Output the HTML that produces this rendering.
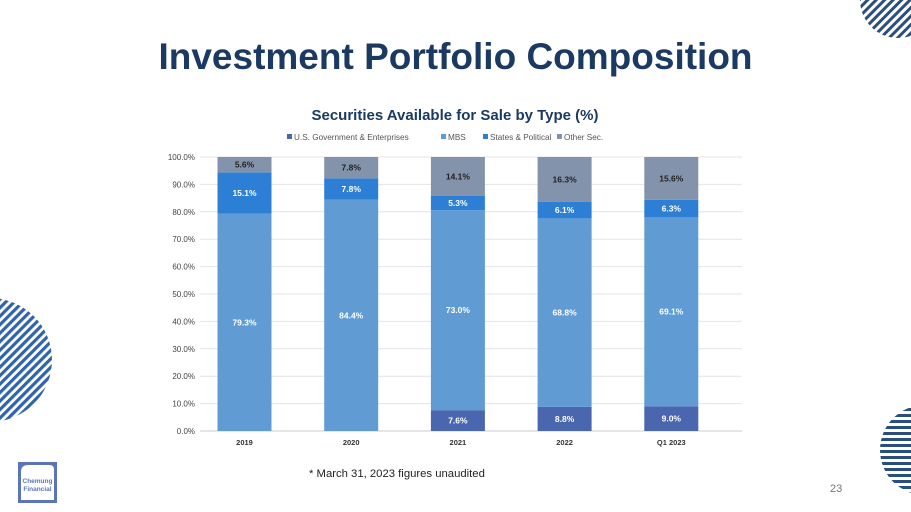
<!DOCTYPE html>
<html><head><meta charset="utf-8"><style>
body{margin:0;width:911px;height:512px;overflow:hidden;background:#fff;font-family:"Liberation Sans",sans-serif;position:relative}
.t{position:absolute}
</style></head><body>
<svg width="911" height="512" style="position:absolute;left:0;top:0">
<defs>
<pattern id="st" width="6" height="6" patternUnits="userSpaceOnUse" patternTransform="rotate(-45)"><rect width="6" height="3.2" fill="#2f64a8"/></pattern>
<pattern id="st2" width="6" height="6" patternUnits="userSpaceOnUse"><rect width="6" height="3" fill="#2a4e7e"/></pattern>
<pattern id="st3" width="6" height="6" patternUnits="userSpaceOnUse" patternTransform="rotate(-45)"><rect width="6" height="3" fill="#2a4e7e"/></pattern>
</defs>
<circle cx="898" cy="0" r="38" fill="url(#st3)"/>
<circle cx="-10" cy="360" r="62" fill="url(#st)"/>
<circle cx="925" cy="450" r="45" fill="url(#st2)"/>
<g>
<rect x="18" y="462" width="39" height="41" fill="#5a76b8"/>
<path d="M21 472 Q21 465 28 465 L50 465 Q54 465 54 470 L54 500 L21 500 Z" fill="#fff"/>
<text x="37.5" y="483" font-size="6.5" font-weight="bold" fill="#5a76b8" text-anchor="middle">Chemung</text>
<text x="37.5" y="491" font-size="6.5" font-weight="bold" fill="#5a76b8" text-anchor="middle">Financial</text>
</g>
</svg>
<div class="t" style="left:0;width:911px;top:36px;text-align:center;font-size:37px;font-weight:bold;color:#1b3a63">Investment Portfolio Composition</div>
<div class="t" style="left:309px;top:468px;font-size:11.3px;color:#222">* March 31, 2023 figures unaudited</div>
<div class="t" style="left:830px;top:483px;font-size:11px;color:#777">23</div>
<svg id="ch" width="911" height="512" style="position:absolute;left:0;top:0"></svg>
<script>
const categories=["2019","2020","2021","2022","Q1 2023"];
const usGov=[0,0,7.6,8.8,9.0];
const mbs=[79.3,84.4,73.0,68.8,69.1];
const states=[15.1,7.8,5.3,6.1,6.3];
const other=[5.6,7.8,14.1,16.3,15.6];
const ticks=[0,10,20,30,40,50,60,70,80,90,100];
const seriesNames=["U.S. Government & Enterprises","MBS","States & Political","Other Sec."];
const colors=["#4a66ae","#609bd3","#2c7fd5","#8393ab"];
const series=[usGov,mbs,states,other];
const NS="http://www.w3.org/2000/svg";
const svg=document.getElementById('ch');
const y=v=>431-v*2.74;
const xc=i=>244.5+i*106.7;
function mk(t,a,txt){const e=document.createElementNS(NS,t);for(const k in a)e.setAttribute(k,a[k]);if(txt!=null)e.textContent=txt;svg.appendChild(e);return e;}
const tt=mk('text',{x:455,y:120,'font-size':15,'font-weight':'bold',fill:'#1b3a63','text-anchor':'middle'},'Securities Available for Sale by Type (%)');


ticks.forEach(t=>{
 const l=mk('line',{x1:200,x2:742,y1:y(t),y2:y(t),stroke:t===0?'#ccc':'#e4e4e4','stroke-width':1});
 
 
 const tx=mk('text',{x:195,y:y(t)+3,'font-size':8,fill:'#444','text-anchor':'end'},t.toFixed(1)+'%');
 
 
});
const lx=[287,441,483,557];
seriesNames.forEach((n,s)=>{
 const r=mk('rect',{x:lx[s],y:134,width:5,height:5,fill:colors[s]});
 
 
 const t=mk('text',{x:lx[s]+7,y:140,'font-size':8.2,fill:'#555'},n);
 
 
});
categories.forEach((c,i)=>{
 let base=0;
 series.forEach((arr,s)=>{
  const v=arr[i];
  if(v>0){
   const r=mk('rect',{x:xc(i)-27,y:y(base+v),width:54,height:v*2.74,fill:colors[s]});
   
   
   const t=mk('text',{x:xc(i),y:y(base+v/2)+3,'font-size':8.5,'font-weight':'bold',fill:s===3?'#222':'#fff','text-anchor':'middle'},v.toFixed(1)+'%');
   
   
  }
  base+=v;
 });
 const cl=mk('text',{x:xc(i),y:445,'font-size':7.5,'font-weight':'bold',fill:'#333','text-anchor':'middle'},c);
 
 
});
</script>
</body></html>
